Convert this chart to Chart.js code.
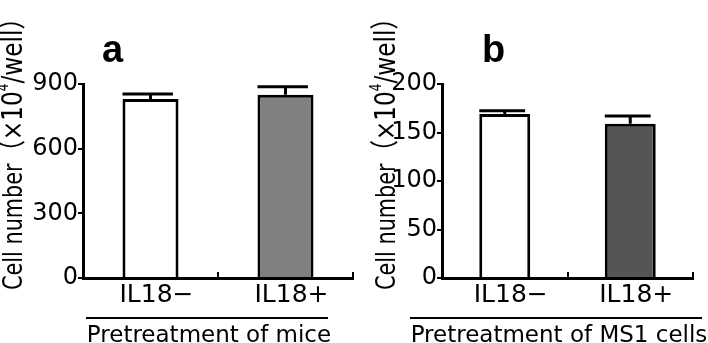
<!DOCTYPE html>
<html>
<head>
<meta charset="utf-8">
<script src="https://cdn.jsdelivr.net/npm/chart.js@4"></script>
<style>
  html, body { margin: 0; padding: 0; background: #fff; }
  #wrap { position: relative; width: 708px; height: 343px; overflow: hidden; }
  canvas { position: absolute; top: 0; }
</style>
</head>
<body>
<div id="wrap">
  <canvas id="chartMice" width="354" height="343" style="left:0"></canvas>
  <canvas id="chartMS1" width="354" height="343" style="left:354px"></canvas>
</div>
<script>
// data
const categories = ['IL18\u2212', 'IL18+'];

const miceMeans = [830, 850];
const miceErrors = [24, 37];
const miceTicks = [0, 300, 600, 900];

const ms1Means = [169, 159];
const ms1Errors = [3.5, 8];
const ms1Ticks = [0, 50, 100, 150, 200];

const tickFont = { family: 'DejaVu Sans', size: 24 };
const labelFont = { family: 'DejaVu Sans', size: 25 };

// error bars, y title, panel letter, group bracket
const extrasPlugin = {
  id: 'extras',
  afterDatasetsDraw(chart) {
    const ctx = chart.ctx;
    const y = chart.scales.y;
    const ds = chart.data.datasets[0];
    const meta = chart.getDatasetMeta(0);
    ctx.save();
    ctx.strokeStyle = '#000';
    ctx.lineWidth = 3;
    meta.data.forEach((bar, i) => {
      const top = y.getPixelForValue(ds.data[i] + ds.errors[i]);
      const w = bar.width;
      ctx.beginPath();
      ctx.moveTo(bar.x, bar.y);
      ctx.lineTo(bar.x, top);
      ctx.moveTo(bar.x - w / 2, top);
      ctx.lineTo(bar.x + w * 0.4, top);
      ctx.stroke();
    });
    ctx.restore();
  },
  afterDraw(chart, args, opts) {
    const ctx = chart.ctx;
    ctx.save();
    ctx.fillStyle = '#000';
    ctx.strokeStyle = '#000';

    // panel letter
    ctx.font = 'bold 38px "Liberation Sans"';
    ctx.textBaseline = 'alphabetic';
    ctx.textAlign = 'left';
    ctx.fillText(opts.letter, opts.letterX, 62);

    // rotated y title (condensed like the original)
    ctx.save();
    ctx.translate(opts.titleX, opts.titleY);
    ctx.rotate(-Math.PI / 2);
    ctx.scale(0.8, 1);
    let x = 0;
    const segs = [
      { t: 'Cell number', f: '26px "DejaVu Sans"', dy: 0 },
      { t: '\uFF08\u00D710', f: '29px "DejaVu Sans", "Noto Sans CJK JP"', dy: 0 },
      { t: '4', f: '15px "DejaVu Sans"', dy: -14 },
      { t: '/well\uFF09', f: '29px "DejaVu Sans", "Noto Sans CJK JP"', dy: 0 }
    ];
    segs.forEach(s => {
      ctx.font = s.f;
      ctx.fillText(s.t, x, s.dy);
      x += ctx.measureText(s.t).width;
    });
    ctx.restore();

    // group bracket + title
    ctx.lineWidth = 2;
    ctx.beginPath();
    ctx.moveTo(opts.lineX1, 318);
    ctx.lineTo(opts.lineX2, 318);
    ctx.stroke();
    ctx.font = '23px "DejaVu Sans"';
    ctx.textAlign = 'center';
    ctx.fillText(opts.group, opts.groupX, 342);
    ctx.restore();
  }
};

const renderChart = (canvasId, means, errors, ticks, fill, cfg) => {
  const canvas = document.getElementById(canvasId);
  return new Chart(canvas, {
    type: 'bar',
    data: {
      labels: categories,
      datasets: [{
        data: means,
        errors: errors,
        backgroundColor: ['#ffffff', fill],
        borderColor: '#000',
        borderWidth: 3,
        borderSkipped: 'start',
        barPercentage: cfg.barPct,
        categoryPercentage: 1
      }]
    },
    options: {
      responsive: false,
      animation: false,
      devicePixelRatio: 1,
      layout: { padding: { top: 84, right: cfg.padRight, left: 0, bottom: 0 } },
      plugins: {
        legend: { display: false },
        tooltip: { enabled: false },
        extras: cfg.extras
      },
      scales: {
        x: {
          z: 1,
          grid: {
            display: true,
            drawOnChartArea: false,
            offset: true,
            tickLength: -6,
            lineWidth: 2,
            color: '#000'
          },
          border: { display: true, color: '#000', width: 3 },
          ticks: { color: '#000', font: labelFont, padding: 8, maxRotation: 0, labelOffset: 6 },
          afterFit: s => { s.height = 65; }
        },
        y: {
          min: 0,
          max: ticks[ticks.length - 1],
          afterBuildTicks: s => { s.ticks = ticks.map(v => ({ value: v })); },
          grid: {
            drawOnChartArea: false,
            tickLength: 5,
            lineWidth: 2,
            color: '#000'
          },
          border: { display: true, color: '#000', width: 3 },
          ticks: { color: '#000', font: tickFont, padding: 0 },
          afterFit: s => { s.width = cfg.yWidth; }
        }
      }
    },
    plugins: [extrasPlugin]
  });
};

renderChart('chartMice', miceMeans, miceErrors, miceTicks, '#808080', {
  barPct: 0.415, padRight: 1, yWidth: 83,
  extras: { letter: 'a', letterX: 102, titleX: 22, titleY: 290,
            group: 'Pretreatment of mice', groupX: 209, lineX1: 86, lineX2: 328 }
});

renderChart('chartMS1', ms1Means, ms1Errors, ms1Ticks, '#555555', {
  barPct: 0.406, padRight: 15, yWidth: 88,
  extras: { letter: 'b', letterX: 128, titleX: 41, titleY: 290,
            group: 'Pretreatment of MS1 cells', groupX: 205, lineX1: 56, lineX2: 348 }
});
</script>
</body>
</html>
